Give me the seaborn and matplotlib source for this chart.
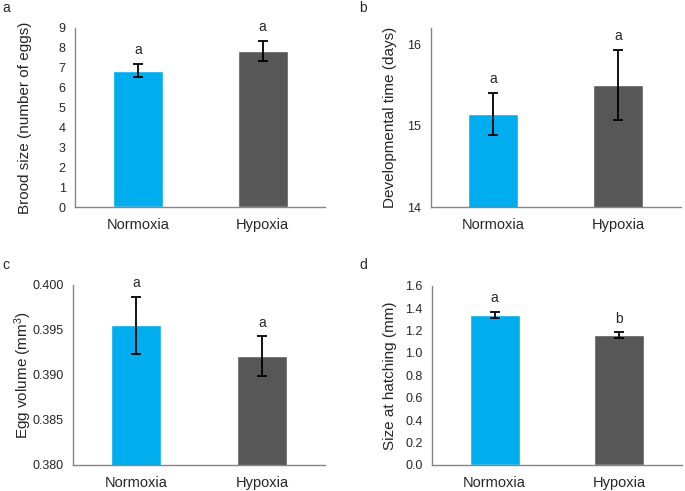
import numpy as np
import matplotlib
matplotlib.use("Agg")
import matplotlib.pyplot as plt
import seaborn as sns
from matplotlib.ticker import FormatStrFormatter, FixedLocator

# datos
groups = ["Normoxia", "Hypoxia"]
colors = ["#00AEEF", "#575757"]

brood_mean = [6.85, 7.83]
brood_err = [0.33, 0.50]
brood_letters = ["a", "a"]

devtime_mean = [15.14, 15.50]
devtime_err = [0.26, 0.43]
devtime_letters = ["a", "a"]

eggvol_mean = [0.3955, 0.3921]
eggvol_err = [0.0032, 0.0022]
eggvol_letters = ["a", "a"]

hatch_mean = [1.34, 1.16]
hatch_err = [0.025, 0.025]
hatch_letters = ["a", "b"]

sns.set_style("white")
plt.rcParams["font.family"] = ["Liberation Sans", "DejaVu Sans"]
plt.rcParams["mathtext.default"] = "regular"

fig = plt.figure(figsize=(6.85, 4.91), dpi=100)

# posiciones de cada panel (fracciones de figura)
panels = [
    dict(rect=[0.110, 0.578, 0.3645, 0.3656], mean=brood_mean, err=brood_err, letters=brood_letters,
         ylim=(0, 9), ticks=np.arange(0, 10, 1), fmt="%d", ylabel="Brood size (number of eggs)",
         lab="a", labpos=(0.004, 0.983), ylx=-0.173),
    dict(rect=[0.629, 0.578, 0.3647, 0.3656], mean=devtime_mean, err=devtime_err, letters=devtime_letters,
         ylim=(14, 16.2), ticks=[14, 15, 16], fmt="%d", ylabel="Developmental time (days)",
         lab="b", labpos=(0.524, 0.983), ylx=-0.135),
    dict(rect=[0.107, 0.053, 0.3675, 0.3666], mean=eggvol_mean, err=eggvol_err, letters=eggvol_letters,
         ylim=(0.380, 0.400), ticks=np.arange(0.380, 0.4001, 0.005), fmt="%.3f", ylabel="Egg volume (mm$^{3}$)",
         lab="c", labpos=(0.004, 0.461), ylx=-0.157),
    dict(rect=[0.631, 0.053, 0.364, 0.365], mean=hatch_mean, err=hatch_err, letters=hatch_letters,
         ylim=(0, 1.6), ticks=np.arange(0, 1.61, 0.2), fmt="%.1f", ylabel="Size at hatching (mm)",
         lab="d", labpos=(0.524, 0.461), ylx=-0.142),
]

for p in panels:
    ax = fig.add_axes(p["rect"])
    sns.barplot(x=groups, y=p["mean"], hue=groups, palette=colors, width=0.4,
                legend=False, ax=ax, saturation=1)
    ax.errorbar(x=[0, 1], y=p["mean"], yerr=p["err"], fmt="none", ecolor="black",
                elinewidth=1.3, capsize=3.4, capthick=1.3)
    for i, (m, e, t) in enumerate(zip(p["mean"], p["err"], p["letters"])):
        ax.annotate(t, xy=(i, m + e), xytext=(0, 7), textcoords="offset points",
                    ha="center", va="baseline", fontsize=10)
    ax.set_xlim(-0.5, 1.5)
    ax.set_ylim(*p["ylim"])
    ax.set_yticks(p["ticks"])
    ax.yaxis.set_major_formatter(FormatStrFormatter(p["fmt"]))
    ax.xaxis.set_minor_locator(FixedLocator([-0.5, 0.5, 1.5]))
    ax.tick_params(axis="x", which="major", length=0, pad=8, labelsize=10.5)
    ax.tick_params(axis="x", which="minor", length=3, width=1, color="#868686", direction="out")
    ax.tick_params(axis="y", which="major", length=2.5, width=1, color="#868686", direction="out",
                   pad=4.5, labelsize=9)
    ax.set_xlabel("")
    ax.set_ylabel(p["ylabel"], fontsize=11)
    ax.yaxis.set_label_coords(p["ylx"], 0.5)
    for s in ["top", "right"]:
        ax.spines[s].set_visible(False)
    for s in ["left", "bottom"]:
        ax.spines[s].set_color("#868686")
        ax.spines[s].set_linewidth(1)
    fig.text(p["labpos"][0], p["labpos"][1], p["lab"], fontsize=10, ha="left", va="center")

plt.savefig("out.png", dpi=100)
